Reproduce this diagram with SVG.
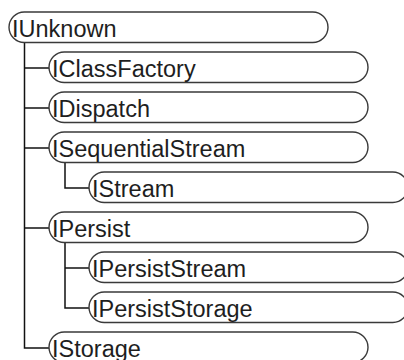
<svg xmlns="http://www.w3.org/2000/svg" width="404" height="360" viewBox="0 0 404 360">
<style>
.box{fill:#fff;stroke:#3a3a3a;stroke-width:1.4}
.lbl{font-family:"Liberation Sans",Arial,sans-serif;font-size:23.5px;fill:#1e1e1e}
.conn{fill:none;stroke:#111;stroke-width:1.5}
</style>
<g id="connectors">
<path class="conn" d="M24.5,42.5 V348 H49"/>
<path class="conn" d="M24.5,68 H49"/>
<path class="conn" d="M24.5,108 H49"/>
<path class="conn" d="M24.5,148 H49"/>
<path class="conn" d="M24.5,228 H49"/>
<path class="conn" d="M65,162.5 V188 H89"/>
<path class="conn" d="M65,242.5 V308 H89"/>
<path class="conn" d="M65,268 H89"/>
</g>
<g id="IUnknown"><rect class="box" x="9" y="12" width="319" height="30.5" rx="15.25"/><text class="lbl" x="12" y="37">IUnknown</text></g>
<g id="IClassFactory"><rect class="box" x="49" y="52" width="319" height="30.5" rx="15.25"/><text class="lbl" x="52" y="77">IClassFactory</text></g>
<g id="IDispatch"><rect class="box" x="49" y="92" width="319" height="30.5" rx="15.25"/><text class="lbl" x="52" y="117">IDispatch</text></g>
<g id="ISequentialStream"><rect class="box" x="49" y="132" width="319" height="30.5" rx="15.25"/><text class="lbl" x="52" y="157">ISequentialStream</text></g>
<g id="IStream"><rect class="box" x="89" y="172" width="319" height="30.5" rx="15.25"/><text class="lbl" x="92" y="197">IStream</text></g>
<g id="IPersist"><rect class="box" x="49" y="212" width="319" height="30.5" rx="15.25"/><text class="lbl" x="52" y="237">IPersist</text></g>
<g id="IPersistStream"><rect class="box" x="89" y="252" width="319" height="30.5" rx="15.25"/><text class="lbl" x="92" y="277">IPersistStream</text></g>
<g id="IPersistStorage"><rect class="box" x="89" y="292" width="319" height="30.5" rx="15.25"/><text class="lbl" x="92" y="317">IPersistStorage</text></g>
<g id="IStorage"><rect class="box" x="49" y="332" width="319" height="30.5" rx="15.25"/><text class="lbl" x="52" y="357">IStorage</text></g>
</svg>
